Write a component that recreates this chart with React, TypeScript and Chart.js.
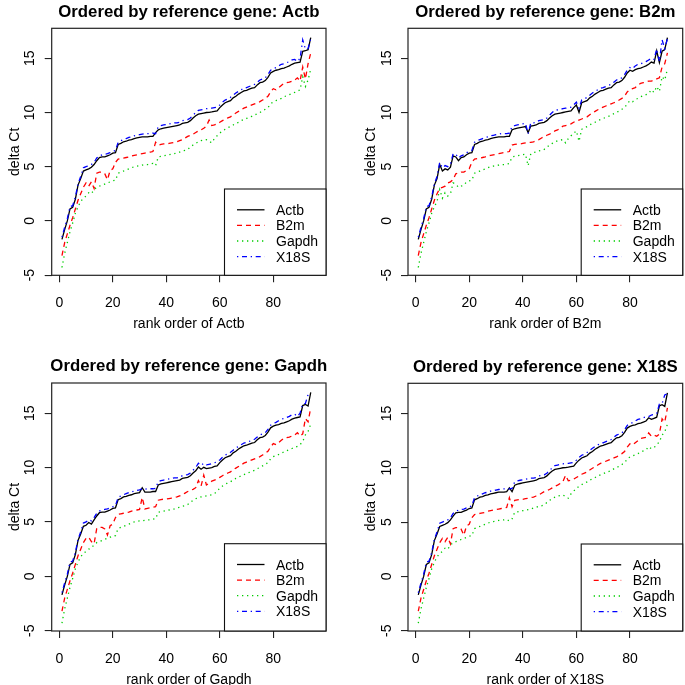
import React, { useEffect, useRef } from 'react';
import { Chart, registerables } from 'chart.js';

Chart.register(...registerables);

// ---- data (one value per sample, samples listed in Actb rank order) ----
const GENES = ['Actb', 'B2m', 'Gapdh', 'X18S'];

const actb = [
  -1.7, -0.8, 0.0, 1.1, 1.25, 2.0, 3.3, 3.9, 4.6, 4.7,
  4.8, 4.95, 5.2, 5.55, 5.85, 5.9, 5.9, 6.0, 6.1, 6.25,
  6.3, 7.05, 7.15, 7.3, 7.35, 7.45, 7.5, 7.6, 7.65, 7.7,
  7.75, 7.75, 7.75, 7.8, 7.8, 8.15, 8.4, 8.5, 8.55, 8.6,
  8.65, 8.7, 8.75, 8.8, 8.85, 9.0, 9.05, 9.1, 9.25, 9.5,
  9.7, 9.85, 9.9, 9.95, 10.0, 10.02, 10.05, 10.1, 10.15, 10.45,
  10.7, 10.9, 11.0, 11.1, 11.35, 11.5, 11.7, 11.85, 12.0, 12.05,
  12.15, 12.25, 12.3, 12.55, 12.75, 12.8, 12.95, 13.25, 13.65, 13.8,
  13.9, 13.95, 14.05, 14.1, 14.2, 14.3, 14.45, 14.55, 14.6, 14.65,
  15.65, 15.7, 15.8, 16.9,
];

const b2m = [
  -3.2, -2.0, -1.2, -0.4, 0.3, 1.1, 1.9, 2.5, 3.1, 3.5,
  3.2, 3.6, 3.0, 4.4, 4.5, 4.5, 4.35, 3.8, 4.65, 4.8,
  5.4, 5.7, 5.75, 5.8, 5.85, 5.9, 6.0, 6.05, 6.1, 6.15,
  6.2, 6.25, 6.3, 6.35, 6.4, 7.25, 7.0, 7.05, 7.1, 7.1,
  7.15, 7.2, 7.25, 7.3, 7.4, 7.5, 7.65, 7.8, 7.9, 8.0,
  8.15, 8.3, 8.4, 8.55, 8.75, 9.3, 8.8, 8.85, 8.95, 9.1,
  9.25, 9.4, 9.5, 9.6, 9.8, 9.95, 10.1, 10.25, 10.4, 10.5,
  10.6, 10.7, 10.8, 10.9, 11.0, 11.15, 11.3, 11.5, 11.9, 12.2,
  12.1, 12.3, 12.5, 12.7, 12.75, 12.8, 12.9, 13.0, 13.2, 12.9,
  14.2, 13.1, 14.5, 15.5,
];

const gapdh = [
  -4.3, -3.0, -2.0, -1.0, -0.2, 0.7, 1.3, 1.8, 2.1, 2.3,
  2.6, 2.5, 2.9, 3.1, 3.2, 3.3, 3.4, 3.5, 3.6, 3.7,
  3.75, 4.4, 4.5, 4.6, 4.7, 4.8, 4.9, 5.0, 5.05, 5.1,
  5.15, 5.2, 5.2, 5.25, 5.3, 5.1, 5.9, 5.95, 6.0, 6.05,
  6.1, 6.15, 6.2, 6.3, 6.35, 6.45, 6.5, 6.6, 6.8, 7.0,
  7.15, 7.3, 7.4, 7.45, 7.5, 7.35, 7.2, 7.6, 7.85, 8.1,
  8.3, 8.45, 8.6, 8.7, 8.85, 9.0, 9.1, 9.25, 9.35, 9.45,
  9.55, 9.65, 9.75, 9.9, 10.0, 10.15, 10.3, 10.45, 10.8, 11.0,
  11.1, 11.2, 11.3, 11.45, 11.55, 11.65, 11.75, 11.85, 11.95, 12.1,
  13.3, 12.4, 13.0, 14.0,
];

const x18s = [
  -1.5, -0.6, 0.2, 1.3, 1.4, 2.2, 3.4, 4.1, 4.9, 5.0,
  5.1, 5.2, 5.4, 5.8, 6.0, 6.1, 6.15, 6.2, 6.3, 6.4,
  6.5, 7.25, 7.4, 7.5, 7.6, 7.7, 7.75, 7.85, 7.9, 7.95,
  8.0, 8.05, 8.05, 8.05, 8.1, 8.05, 8.7, 8.8, 8.85, 8.9,
  8.95, 9.0, 9.05, 9.05, 9.1, 9.25, 9.3, 9.35, 9.5, 9.75,
  10.0, 10.2, 10.25, 10.3, 10.35, 10.4, 10.4, 10.45, 10.5, 10.7,
  10.95, 11.15, 11.25, 11.4, 11.6, 11.8, 11.95, 12.1, 12.25, 12.3,
  12.4, 12.5, 12.6, 12.8, 13.0, 13.1, 13.2, 13.5, 13.9, 14.05,
  14.15, 14.3, 14.45, 14.5, 14.6, 14.7, 14.85, 14.9, 14.7, 15.0,
  16.7, 15.85, 15.9, 16.8,
];

const VALUES = [actb, b2m, gapdh, x18s];

const X_TICKS = [0, 20, 40, 60, 80];
const X_TICK_LABELS = ['0', '20', '40', '60', '80'];
const Y_TICKS = [-5, 0, 5, 10, 15];
const Y_TICK_LABELS = ['-5', '0', '5', '10', '15'];
const Y_LABEL = 'delta Ct';

const X_MIN = -2.84;
const X_MAX = 99.7;
const Y_MIN = -5.02;
const Y_MAX = 17.77;

const COLORS = ['#000000', '#FF0000', '#00CD00', '#0000FF'];
const DASHES: number[][] = [[], [5, 4], [1.3, 3.7], [1.3, 3.7, 5, 3.7]];

const FONT = '"Liberation Sans", Arial, Helvetica, sans-serif';

type Area = { l: number; r: number; t: number; b: number };
type PanelDef = { ref: number; x: number; y: number; w: number; h: number; area: Area };

const PANELS: PanelDef[] = [
  { ref: 0, x: 0, y: 0, w: 342, h: 342, area: { l: 51.7, r: 326, t: 28.3, b: 275.3 } },
  { ref: 1, x: 342, y: 0, w: 343, h: 342, area: { l: 66, r: 340.7, t: 28.3, b: 275.3 } },
  { ref: 2, x: 0, y: 342, w: 342, h: 343, area: { l: 51.7, r: 326, t: 41, b: 289 } },
  { ref: 3, x: 342, y: 342, w: 343, h: 343, area: { l: 66, r: 340.7, t: 41.3, b: 289 } },
];

const framePlugin = {
  id: 'rframe',
  afterDraw(chart: any, _args: any, opts: any) {
    const { ctx, chartArea: a, scales } = chart;
    ctx.save();
    // box
    ctx.strokeStyle = '#222';
    ctx.lineWidth = 1.2;
    ctx.setLineDash([]);
    ctx.strokeRect(a.left, a.top, a.right - a.left, a.bottom - a.top);

    ctx.fillStyle = '#000';
    // title
    ctx.font = `bold 16.8px ${FONT}`;
    ctx.textAlign = 'center';
    ctx.textBaseline = 'alphabetic';
    ctx.fillText(opts.title, (a.left + a.right) / 2, a.top - 11.8);

    // x tick labels
    ctx.font = `14px ${FONT}`;
    X_TICKS.forEach((v, i) => {
      const px = scales.x.getPixelForValue(v);
      ctx.fillText(X_TICK_LABELS[i], px, a.bottom + 31.5);
    });
    // x label
    ctx.fillText(opts.xLabel, (a.left + a.right) / 2, a.bottom + 53);

    // y tick labels (rotated)
    Y_TICKS.forEach((v, i) => {
      const py = scales.y.getPixelForValue(v);
      ctx.save();
      ctx.translate(a.left - 17.5, py);
      ctx.rotate(-Math.PI / 2);
      ctx.fillText(Y_TICK_LABELS[i], 0, 0);
      ctx.restore();
    });
    // y label
    ctx.save();
    ctx.translate(a.left - 33, (a.top + a.bottom) / 2);
    ctx.rotate(-Math.PI / 2);
    ctx.fillText(Y_LABEL, 0, 0);
    ctx.restore();

    // legend
    const lw = 101.5;
    const lx = a.right - lw;
    const ly = a.top + 160.7;
    ctx.fillStyle = '#fff';
    ctx.fillRect(lx, ly, lw, a.bottom - ly);
    ctx.strokeStyle = '#111';
    ctx.lineWidth = 1.1;
    ctx.strokeRect(lx, ly, lw, a.bottom - ly);
    ctx.textAlign = 'left';
    GENES.forEach((g, i) => {
      const cy = ly + 20.8 + i * 15.6;
      ctx.strokeStyle = COLORS[i];
      ctx.lineWidth = 1.3;
      ctx.setLineDash(DASHES[i]);
      ctx.beginPath();
      ctx.moveTo(lx + 12.5, cy);
      ctx.lineTo(lx + 40, cy);
      ctx.stroke();
      ctx.setLineDash([]);
      ctx.fillStyle = '#000';
      ctx.fillText(g, lx + 51.5, cy + 5);
    });
    ctx.restore();
  },
};

function Panel({ def }: { def: PanelDef }) {
  const ref = useRef<HTMLCanvasElement | null>(null);
  useEffect(() => {
    const canvas = ref.current;
    if (!canvas) return;
    const refVals = VALUES[def.ref];
    const order = refVals.map((_, i) => i).sort((p, q) => refVals[p] - refVals[q]);
    const datasets = GENES.map((g, gi) => ({
      label: g,
      data: order.map((idx, rank) => ({ x: rank + 1, y: VALUES[gi][idx] })),
      borderColor: COLORS[gi],
      borderWidth: 1.3,
      borderDash: DASHES[gi],
      borderCapStyle: 'butt' as const,
      pointRadius: 0,
      fill: false,
      tension: 0,
      order: 4 - gi,
    }));
    const { area, w, h } = def;
    const gridOpts = {
      drawOnChartArea: false,
      drawTicks: true,
      tickLength: 7,
      color: '#222',
      lineWidth: 1.1,
    };
    const chart = new Chart(canvas, {
      type: 'line',
      data: { datasets },
      options: {
        animation: false,
        responsive: false,
        maintainAspectRatio: false,
        events: [],
        layout: {
          autoPadding: false,
          padding: { top: area.t, right: w - area.r, left: 0, bottom: 0 },
        },
        plugins: {
          legend: { display: false },
          title: { display: false },
          tooltip: { enabled: false },
          rframe: { title: `Ordered by reference gene: ${GENES[def.ref]}`, xLabel: `rank order of ${GENES[def.ref]}` },
        } as any,
        scales: {
          x: {
            type: 'linear',
            min: X_MIN,
            max: X_MAX,
            bounds: 'data',
            afterFit: (s: any) => { s.height = h - area.b; },
            afterBuildTicks: (s: any) => { s.ticks = X_TICKS.map((v) => ({ value: v })); },
            ticks: { display: false },
            grid: gridOpts,
            border: { display: false },
          },
          y: {
            type: 'linear',
            min: Y_MIN,
            max: Y_MAX,
            bounds: 'data',
            afterFit: (s: any) => { s.width = area.l; },
            afterBuildTicks: (s: any) => { s.ticks = Y_TICKS.map((v) => ({ value: v })); },
            ticks: { display: false },
            grid: gridOpts,
            border: { display: false },
          },
        },
      } as any,
      plugins: [framePlugin],
    });
    return () => chart.destroy();
  }, [def]);
  return (
    <canvas
      ref={ref}
      width={def.w}
      height={def.h}
      style={{ position: 'absolute', left: def.x, top: def.y, width: def.w, height: def.h }}
    />
  );
}

export default function App() {
  return (
    <div style={{ position: 'absolute', left: 0, top: 0, width: 685, height: 685, background: '#fff', overflow: 'hidden' }}>
      {PANELS.map((p, i) => (
        <Panel key={i} def={p} />
      ))}
    </div>
  );
}
